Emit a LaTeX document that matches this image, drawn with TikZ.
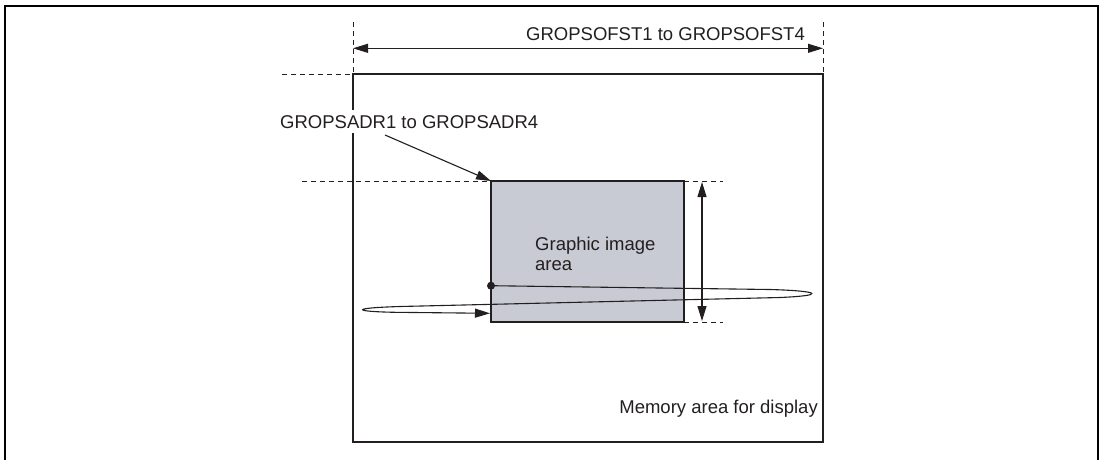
\documentclass[tikz,border=0pt]{standalone}
\usepackage{fontspec}
\setmainfont{Liberation Sans}
\usetikzlibrary{arrows.meta}
\definecolor{gfill}{RGB}{200,203,211}
\definecolor{ink}{RGB}{35,31,32}
\begin{document}
\begin{tikzpicture}[x=1pt,y=-1pt,
  txt/.style={inner sep=0pt, font=\fontsize{18.5}{21}\selectfont, text=ink},
  boxline/.style={draw=ink, line width=2.5pt},
  thin/.style={draw=ink, line width=1.1pt},
  dashline/.style={draw=ink, line width=0.9pt, dash pattern=on 5pt off 4pt},
  tip/.style={-{Triangle[length=15pt,width=9pt]}},
  tips/.style={{Triangle[length=15pt,width=9pt]}-{Triangle[length=15pt,width=9pt]}}]
\useasboundingbox (0,0) rectangle (1103,459);
% outer frame
\draw[draw=black, line width=2.6pt] (5,460) -- (5,6) -- (1098,6) -- (1098,460);
% coordinates
\coordinate (mtl) at (353,74);
\coordinate (mbr) at (823,442);
\coordinate (mtr) at (823,74);
\coordinate (gtl) at (491,181);
\coordinate (gbr) at (684,322);
\coordinate (gtr) at (684,181);
% memory box
\draw[boxline] (mtl) rectangle (mbr);
% graphic area
\draw[boxline, fill=gfill] (gtl) rectangle (gbr);
% dimension lines top
\coordinate (dl1) at (353,22);
\coordinate (dr1) at (823,22);
\draw[dashline] (dl1) -- (mtl);
\draw[dashline] (dr1) -- (mtr);
\coordinate (al) at (353,48.3);
\coordinate (ar) at (823,48.3);
\draw[thin, tips] (al) -- (ar);
\node[txt, anchor=base east] (ofst) at (805,40) {GROPSOFST1 to GROPSOFST4};
% dashed horizontal guides
\coordinate (hl0) at (282,74);
\draw[dashline] (hl0) -- (mtl);
\coordinate (hl1) at (302,181);
\draw[dashline] (hl1) -- (gtl);
\coordinate (hr1) at (723,181);
\coordinate (hr2) at (723,322);
\draw[dashline] (gtr) -- (hr1);
\draw[dashline] (gbr) -- (hr2);
% vertical dimension
\coordinate (vt) at (702,182);
\coordinate (vb) at (702,321);
\draw[thin, tips] (vt) -- (vb);
% address label (white background interrupts the box edge)
\node[txt, anchor=base west, fill=white, inner xsep=0pt, inner ysep=5pt] (adr) at (280,128) {GROPSADR1 to GROPSADR4};
\coordinate (adrs) at (385,135);
\draw[thin, tip] (adrs) -- (gtl);
% graphic label
\node[txt, anchor=base west] (glab) at (535,250) {Graphic image};
\node[txt, anchor=base west] (glab2) at (535,270) {area};
% memory label
\node[txt, anchor=base east] (mlab) at (818,413) {Memory area for display};
% scan loop
\coordinate (dot) at (491,285.7);
\coordinate (ret) at (490,313.3);
\fill[ink] (dot) circle (4pt);
\draw[thin, tip] (dot) -- (770,289.5)
  .. controls (822,291) and (826,295.5) .. (780,297.5)
  -- (400,306.5)
  .. controls (350,308) and (352,311.5) .. (395,312.3)
  -- (ret);
\end{tikzpicture}
\end{document}
